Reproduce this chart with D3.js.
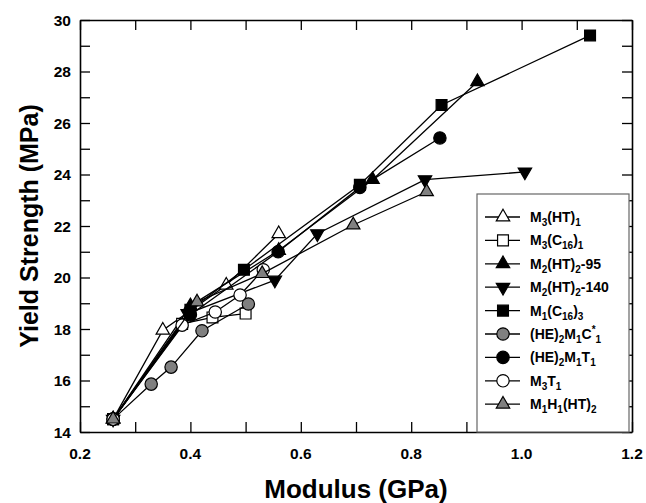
<!DOCTYPE html>
<html><head><meta charset="utf-8">
<script src="https://cdn.jsdelivr.net/npm/d3@7"></script>
<style>body{margin:0;background:#fff}svg{display:block}text{font-family:"Liberation Sans",Arial,sans-serif;font-weight:bold}</style>
</head><body><svg id="c" width="646" height="503"></svg>
<script>
// ---- data ----
const xTicks = [0.2, 0.4, 0.6, 0.8, 1.0, 1.2];
const yTicks = [14, 16, 18, 20, 22, 24, 26, 28, 30];
const s_M3HT1   = [[0.26,14.5],[0.35,17.95],[0.465,19.7],[0.56,21.7]];
const s_M3C161  = [[0.26,14.5],[0.385,18.2],[0.44,18.45],[0.50,18.6]];
const s_M2HT295 = [[0.26,14.5],[0.40,18.9],[0.56,21.05],[0.73,23.8],[0.92,27.6]];
const s_M2HT2140= [[0.26,14.5],[0.395,18.6],[0.553,19.9],[0.63,21.7],[0.825,23.8],[1.006,24.1]];
const s_M1C163  = [[0.26,14.5],[0.40,18.75],[0.497,20.3],[0.707,23.6],[0.855,26.7],[1.124,29.4]];
const s_HEC     = [[0.26,14.5],[0.329,15.86],[0.365,16.52],[0.421,17.93],[0.505,18.97]];
const s_HET     = [[0.26,14.5],[0.40,18.55],[0.559,21.0],[0.707,23.5],[0.852,25.42]];
const s_M3T1    = [[0.26,14.5],[0.385,18.15],[0.445,18.66],[0.49,19.32],[0.532,20.3]];
const s_M1H1    = [[0.26,14.5],[0.412,19.05],[0.53,20.15],[0.695,22.04],[0.828,23.33]];
const seriesData = [s_M3HT1, s_M3C161, s_M2HT295, s_M2HT2140, s_M1C163, s_HEC, s_HET, s_M3T1, s_M1H1];
const seriesNames = [
  [["M",""],["3","sub"],["(HT)",""],["1","sub"]],
  [["M",""],["3","sub"],["(C",""],["16","sub"],[")",""],["1","sub"]],
  [["M",""],["2","sub"],["(HT)",""],["2","sub"],["-95",""]],
  [["M",""],["2","sub"],["(HT)",""],["2","sub"],["-140",""]],
  [["M",""],["1","sub"],["(C",""],["16","sub"],[")",""],["3","sub"]],
  [["(HE)",""],["2","sub"],["M",""],["1","sub"],["C",""],["*","sup"],["1","sub"]],
  [["(HE)",""],["2","sub"],["M",""],["1","sub"],["T",""],["1","sub"]],
  [["M",""],["3","sub"],["T",""],["1","sub"]],
  [["M",""],["1","sub"],["H",""],["1","sub"],["(HT)",""],["2","sub"]]
];
const xTitle = "Modulus (GPa)";
const yTitle = "Yield Strength (MPa)";

// ---- styles ----
const markerStyle = [
  {type:"tri", fill:"#fff"},
  {type:"sq", fill:"#fff"},
  {type:"tri", fill:"#000"},
  {type:"tridown", fill:"#000"},
  {type:"sq", fill:"#000"},
  {type:"circ", fill:"#808080"},
  {type:"circ", fill:"#000"},
  {type:"circ", fill:"#fff"},
  {type:"tri", fill:"#808080"}
];

const svg = d3.select("#c");
const L=80, R=632, T=20, B=432;
const x = d3.scaleLinear().domain([0.2,1.2]).range([L,R]);
const y = d3.scaleLinear().domain([14,30]).range([B,T]);

function symPath(t){
  if(t==="tri"||t==="tridown") return d3.symbol(d3.symbolTriangle, 78)();
  if(t==="sq") return d3.symbol(d3.symbolSquare, 118)();
  return d3.symbol(d3.symbolCircle, 120)();
}

// axes with inward ticks
const minorX = d3.range(0.2, 1.2001, 0.1);
const minorY = d3.range(14, 30.001, 1);
const axB = d3.axisBottom(x).tickValues(minorX).tickSizeInner(-10).tickSizeOuter(0).tickFormat("");
const axT = d3.axisTop(x).tickValues(minorX).tickSizeInner(-10).tickSizeOuter(0).tickFormat("");
const axL = d3.axisLeft(y).tickValues(minorY).tickSizeInner(-10).tickSizeOuter(0).tickFormat("");
const axR = d3.axisRight(y).tickValues(minorY).tickSizeInner(-10).tickSizeOuter(0).tickFormat("");
[[axB,`translate(0,${B})`],[axT,`translate(0,${T})`],[axL,`translate(${L},0)`],[axR,`translate(${R},0)`]].forEach(([a,tr])=>{
  const g = svg.append("g").attr("transform",tr).call(a);
  g.selectAll("path.domain").attr("stroke","#000").attr("stroke-width",1.6);
  g.selectAll("line").attr("stroke","#000").attr("stroke-width",1.3);
});

// tick labels
svg.append("g").selectAll("text").data(xTicks).join("text")
  .attr("x",d=>x(d)).attr("y",B+27).attr("text-anchor","middle").attr("font-size",15.5)
  .text(d=>d.toFixed(1));
svg.append("g").selectAll("text").data(yTicks).join("text")
  .attr("x",L-9).attr("y",d=>y(d)+5.5).attr("text-anchor","end").attr("font-size",15.5)
  .text(d=>d);

// titles
svg.append("text").attr("x",(L+R)/2).attr("y",498).attr("text-anchor","middle").attr("font-size",26).text(xTitle);
svg.append("text").attr("transform",`translate(38,${(T+B)/2}) rotate(-90)`).attr("text-anchor","middle").attr("font-size",25).text(yTitle);

// series
const line = d3.line().x(d=>x(d[0])).y(d=>y(d[1]));
seriesData.forEach((s,i)=>{
  const st = markerStyle[i];
  svg.append("path").attr("d",line(s)).attr("fill","none").attr("stroke","#000").attr("stroke-width",1.3);
  svg.append("g").selectAll("path").data(s).join("path")
    .attr("d",symPath(st.type))
    .attr("transform",d=>`translate(${x(d[0])},${y(d[1])})${st.type==="tridown"?" rotate(180)":""}`)
    .attr("fill",st.fill).attr("stroke","#000").attr("stroke-width",1.2);
});

// legend
const lg = svg.append("g");
lg.append("rect").attr("x",477).attr("y",194).attr("width",152).attr("height",238)
  .attr("fill","#fff").attr("stroke","#666").attr("stroke-width",1.2);
seriesNames.forEach((nm,i)=>{
  const yy = 217 + i*23.4;
  const st = markerStyle[i];
  lg.append("line").attr("x1",485).attr("x2",520).attr("y1",yy).attr("y2",yy).attr("stroke","#000").attr("stroke-width",1.3);
  lg.append("path").attr("d",symPath(st.type))
    .attr("transform",`translate(503,${yy})${st.type==="tridown"?" rotate(180)":""}`)
    .attr("fill",st.fill).attr("stroke","#000").attr("stroke-width",1.2);
  const t = lg.append("text").attr("x",530).attr("y",yy+5).attr("font-size",14);
  let cur = 0;
  nm.forEach(([s,k])=>{
    const target = k==="sub"?4:(k==="sup"?-6:0);
    t.append("tspan").text(s).attr("font-size",k?10:14).attr("dy",target-cur);
    cur = target;
  });
});
</script></body></html>
